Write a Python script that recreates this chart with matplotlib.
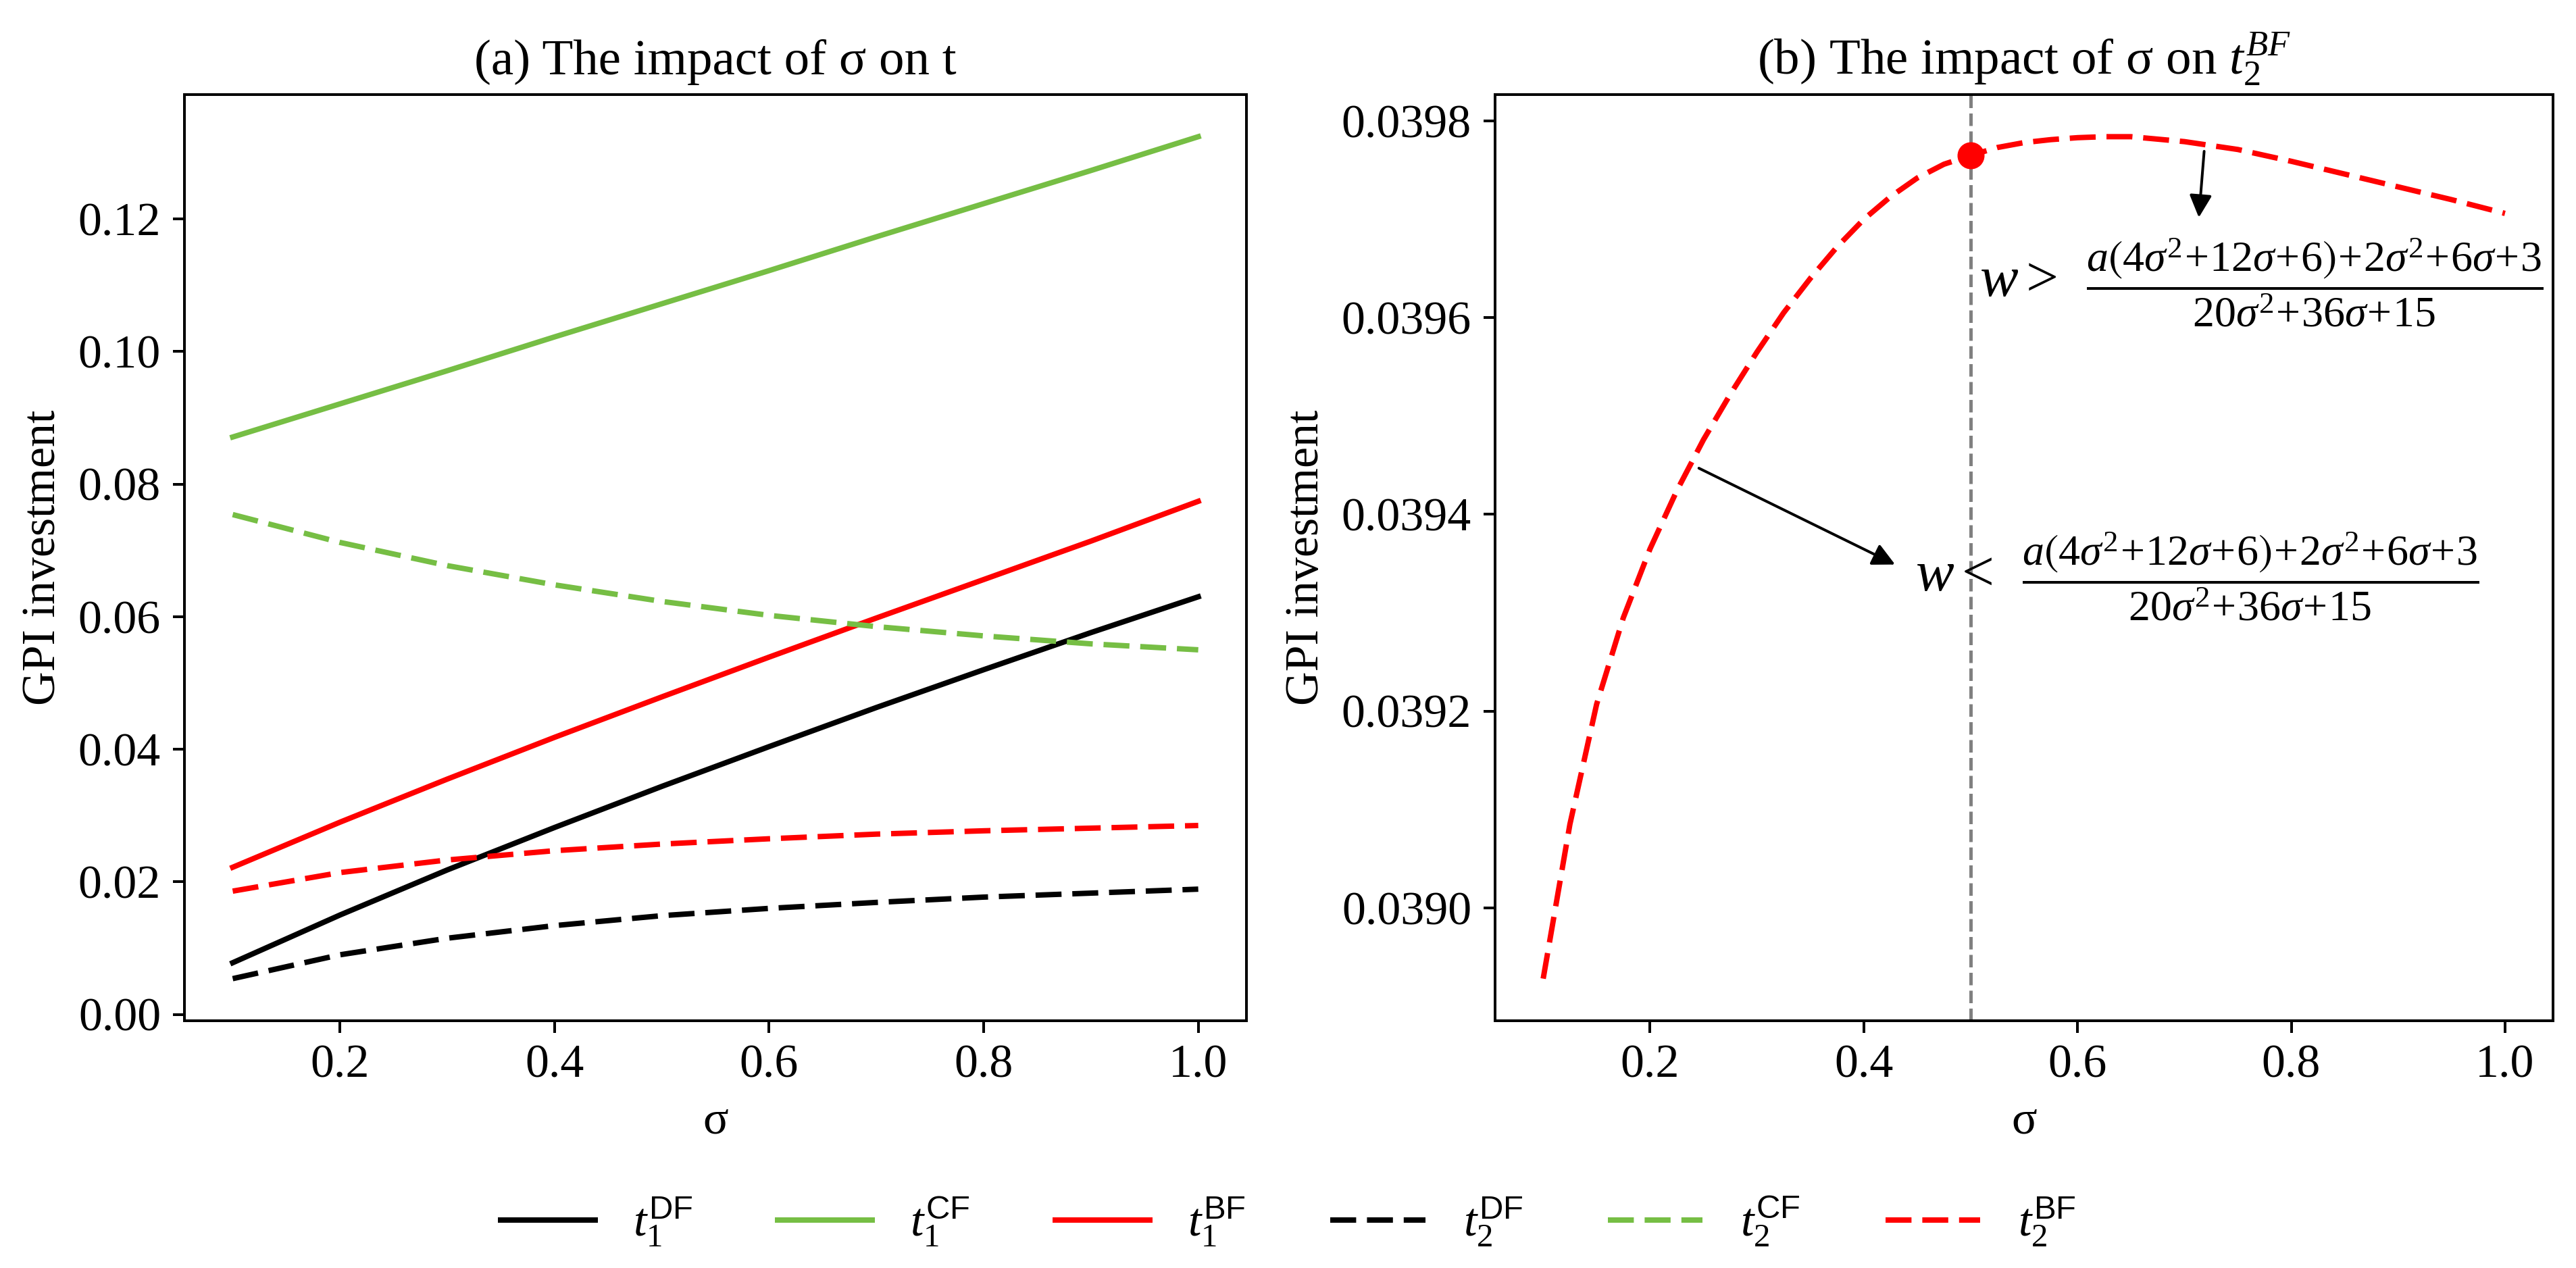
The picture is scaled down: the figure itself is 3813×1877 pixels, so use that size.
import matplotlib
matplotlib.use('Agg')
import matplotlib.pyplot as plt
from matplotlib.ticker import FormatStrFormatter

plt.rcParams['font.family'] = ['Liberation Serif', 'DejaVu Serif']
plt.rcParams['mathtext.fontset'] = 'custom'
plt.rcParams['mathtext.rm'] = 'Liberation Serif'
plt.rcParams['mathtext.it'] = 'Liberation Serif:italic'
plt.rcParams['mathtext.bf'] = 'Liberation Serif:bold'
plt.rcParams['mathtext.sf'] = 'Liberation Sans'
plt.rcParams['mathtext.fallback'] = 'stix'

# sigma grid for panel (a)
sigma_a = [0.1, 0.2, 0.3, 0.4, 0.5, 0.6, 0.7, 0.8, 0.9, 1.0]

t1_df = [0.0078, 0.0150, 0.0218, 0.0282, 0.0344, 0.0404, 0.0463, 0.0520, 0.0576, 0.0630]
t1_cf = [0.0871, 0.0921, 0.0971, 0.1022, 0.1072, 0.1122, 0.1173, 0.1223, 0.1273, 0.1324]
t1_bf = [0.0222, 0.0290, 0.0355, 0.0418, 0.0479, 0.0539, 0.0598, 0.0656, 0.0714, 0.0774]
t2_df = [0.0054, 0.0090, 0.0115, 0.0134, 0.0149, 0.0160, 0.0169, 0.0177, 0.0183, 0.0189]
t2_cf = [0.0754, 0.0712, 0.0677, 0.0648, 0.0623, 0.0602, 0.0585, 0.0571, 0.0559, 0.0550]
t2_bf = [0.0186, 0.0214, 0.0233, 0.0247, 0.0257, 0.0265, 0.0272, 0.0277, 0.0281, 0.0285]

# panel (b): t2^BF alone, finer grid where the curve bends
sigma_b = [0.100, 0.125, 0.150, 0.175, 0.200, 0.225, 0.250, 0.275, 0.300, 0.325,
           0.350, 0.375, 0.400, 0.425, 0.450, 0.475, 0.500, 0.525, 0.550, 0.575,
           0.600, 0.625, 0.650, 0.700, 0.750, 0.800, 0.850, 0.900, 0.950, 1.000]
t2_bf_b = [0.038928, 0.039085, 0.039207, 0.039295, 0.039365, 0.039424, 0.039476,
           0.039522, 0.039565, 0.039605, 0.039640, 0.039672, 0.039700, 0.039723,
           0.039742, 0.039756, 0.039765, 0.039773, 0.039778, 0.039781, 0.039783,
           0.039784, 0.039784, 0.039779, 0.039771, 0.039759, 0.039746, 0.039733,
           0.039720, 0.039706]

threshold_sigma = 0.5
threshold_value = 0.039765

black = 'black'
green = '#76BE44'
red = 'red'
lw = 1.6
dash = (0, (4.8, 2.0))

fig = plt.figure(figsize=(3813 / 360, 1877 / 360), dpi=360)
ax1 = fig.add_axes([0.0716, 0.1950, 0.4123, 0.7304])
ax2 = fig.add_axes([0.5804, 0.1950, 0.4107, 0.7304])

# ---- (a) ----
ax1.plot(sigma_a, t1_df, color=black, lw=lw, label=r'$t_1^{\mathsf{DF}}$')
ax1.plot(sigma_a, t1_cf, color=green, lw=lw, label=r'$t_1^{\mathsf{CF}}$')
ax1.plot(sigma_a, t1_bf, color=red, lw=lw, label=r'$t_1^{\mathsf{BF}}$')
ax1.plot(sigma_a, t2_df, color=black, lw=lw, ls=dash, label=r'$t_2^{\mathsf{DF}}$')
ax1.plot(sigma_a, t2_cf, color=green, lw=lw, ls=dash, label=r'$t_2^{\mathsf{CF}}$')
ax1.plot(sigma_a, t2_bf, color=red, lw=lw, ls=dash, label=r'$t_2^{\mathsf{BF}}$')

ax1.set_title('(a) The impact of σ on t', fontsize=15)
ax1.set_xlabel('σ', fontsize=14)
ax1.set_ylabel('GPI investment', fontsize=14)
ax1.set_xticks([0.2, 0.4, 0.6, 0.8, 1.0])
ax1.set_yticks([0.00, 0.02, 0.04, 0.06, 0.08, 0.10, 0.12])
ax1.xaxis.set_major_formatter(FormatStrFormatter('%.1f'))
ax1.yaxis.set_major_formatter(FormatStrFormatter('%.2f'))

# ---- (b) ----
ax2.plot(sigma_b, t2_bf_b, color=red, lw=lw, ls=dash)
ax2.axvline(threshold_sigma, color='gray', lw=1.0, ls='--')
ax2.plot([threshold_sigma], [threshold_value], 'o', color=red, ms=7)

ax2.annotate('', xy=(0.713, 0.039695), xytext=(0.719, 0.039776),
             arrowprops=dict(arrowstyle='-|>', color='black', lw=0.8, mutation_scale=14))
ax2.annotate('', xy=(0.435, 0.039346), xytext=(0.240, 0.039450),
             arrowprops=dict(arrowstyle='-|>', color='black', lw=0.8, mutation_scale=14))

frac = (r'$\dfrac{a\left(4\sigma^2\!+\!12\sigma\!+\!6\right)\!+\!2\sigma^2\!+\!6\sigma\!+\!3}'
        r'{20\sigma^2\!+\!36\sigma\!+\!15}$')
ax2.text(0.508, 0.039636, r'$w >$', fontsize=17, ha='left', va='center')
ax2.text(0.822, 0.039636, frac, fontsize=12.8, ha='center', va='center')
ax2.text(0.448, 0.039337, r'$w <$', fontsize=17, ha='left', va='center')
ax2.text(0.762, 0.039337, frac, fontsize=12.8, ha='center', va='center')

ax2.set_title(r'(b) The impact of σ on $t_2^{BF}$', fontsize=15)
ax2.set_xlabel('σ', fontsize=14)
ax2.set_ylabel('GPI investment', fontsize=14)
ax2.set_xticks([0.2, 0.4, 0.6, 0.8, 1.0])
ax2.set_yticks([0.0390, 0.0392, 0.0394, 0.0396, 0.0398])
ax2.xaxis.set_major_formatter(FormatStrFormatter('%.1f'))
ax2.yaxis.set_major_formatter(FormatStrFormatter('%.4f'))

for ax in (ax1, ax2):
    ax.tick_params(labelsize=14)

handles, labels = ax1.get_legend_handles_labels()
fig.legend(handles, labels, loc='center', bbox_to_anchor=(0.5, 0.037), ncol=6,
           frameon=False, fontsize=14, columnspacing=1.8)

fig.savefig('out.png', dpi=360)
